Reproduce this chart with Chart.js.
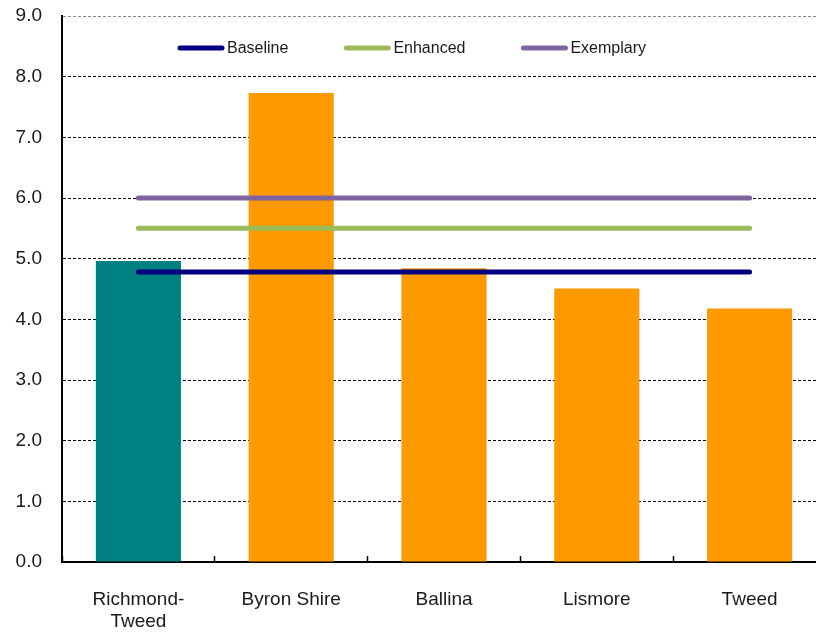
<!DOCTYPE html>
<html lang="en">
<head>
    <meta charset="UTF-8">
    <title>Richmond-Tweed scores</title>
    <script src="https://cdn.jsdelivr.net/npm/chart.js"></script>
    <style>
        html, body { margin: 0; padding: 0; overflow: hidden; background: #fff; }
        canvas { display: block; }
    </style>
</head>
<body>
    <canvas id="score-chart" width="828" height="633"></canvas>

    <script>
        // data
        const categories = [['Richmond-', 'Tweed'], 'Byron Shire', 'Ballina', 'Lismore', 'Tweed'];
        const scores = [4.96, 7.73, 4.84, 4.51, 4.18];
        const baseline = [4.78, 4.78, 4.78, 4.78, 4.78];
        const enhanced = [5.5, 5.5, 5.5, 5.5, 5.5];
        const exemplary = [6.0, 6.0, 6.0, 6.0, 6.0];
        const yTicks = [0, 1, 2, 3, 4, 5, 6, 7, 8, 9];

        const FONT = '"Liberation Sans", Arial, sans-serif';

        // legend drawn inside the plot, line sample + label
        const insideLegend = {
            id: 'insideLegend',
            afterDatasetsDraw(chart) {
                const ctx = chart.ctx;
                const area = chart.chartArea;
                let x = area.left + 115;
                const y = area.top + 32;
                ctx.save();
                ctx.font = '16px ' + FONT;
                ctx.textBaseline = 'middle';
                chart.data.datasets.filter(d => d.type === 'line').forEach(d => {
                    ctx.strokeStyle = d.borderColor;
                    ctx.lineWidth = 5;
                    ctx.lineCap = 'round';
                    ctx.beginPath();
                    ctx.moveTo(x + 3, y);
                    ctx.lineTo(x + 45, y);
                    ctx.stroke();
                    ctx.fillStyle = '#1a1a1a';
                    ctx.fillText(d.label, x + 50, y + 1);
                    x += 50 + ctx.measureText(d.label).width + 55;
                });
                ctx.restore();
            }
        };

        const lineSet = (label, data, color) => ({
            type: 'line',
            label: label,
            data: data,
            borderColor: color,
            backgroundColor: color,
            borderWidth: 5,
            borderCapStyle: 'round',
            pointRadius: 0,
            fill: false,
            order: 1
        });

        const ctx = document.getElementById('score-chart').getContext('2d');
        const chart = new Chart(ctx, {
            type: 'bar',
            data: {
                labels: categories,
                datasets: [
                    {
                        label: 'Score',
                        data: scores,
                        backgroundColor: scores.map((v, i) => i === 0 ? '#008080' : '#FF9900'),
                        categoryPercentage: 1,
                        barPercentage: 0.557,
                        order: 2
                    },
                    lineSet('Baseline', baseline, '#000080'),
                    lineSet('Enhanced', enhanced, '#9BBB59'),
                    lineSet('Exemplary', exemplary, '#8064A2')
                ]
            },
            options: {
                responsive: false,
                animation: false,
                layout: { autoPadding: false, padding: { top: 16, right: 2, left: 0, bottom: 0 } },
                plugins: {
                    legend: { display: false },
                    tooltip: { enabled: false }
                },
                scales: {
                    x: {
                        offset: true,
                        grid: {
                            offset: true,
                            drawOnChartArea: false,
                            drawTicks: true,
                            tickLength: -6,
                            tickColor: '#000',
                            tickWidth: 1.5
                        },
                        border: { color: '#000', width: 2 },
                        ticks: {
                            color: '#1a1a1a',
                            padding: 32,
                            maxRotation: 0,
                            autoSkip: false,
                            font: { family: FONT, size: 19 }
                        },
                        afterFit(scale) {
                            scale.height = 71;
                            scale.paddingLeft = 0;
                            scale.paddingRight = 0;
                            scale.paddingTop = 0;
                            scale.paddingBottom = 0;
                        }
                    },
                    y: {
                        min: 0,
                        max: 9,
                        afterBuildTicks(scale) { scale.ticks = yTicks.map(v => ({ value: v })); },
                        grid: {
                            drawTicks: false,
                            color: c => c.tick && c.tick.value === 9 ? '#8a8a8a' : '#000',
                            lineWidth: 1
                        },
                        border: { color: '#000', width: 2, dash: [3, 2] },
                        ticks: {
                            color: '#1a1a1a',
                            padding: 20,
                            font: { family: FONT, size: 19 },
                            callback: v => Number(v).toFixed(1)
                        },
                        afterFit(scale) {
                            scale.width = 62;
                            scale.paddingTop = 0;
                            scale.paddingBottom = 0;
                            scale.paddingLeft = 0;
                            scale.paddingRight = 0;
                        }
                    }
                }
            },
            plugins: [insideLegend]
        });
    </script>
</body>
</html>
